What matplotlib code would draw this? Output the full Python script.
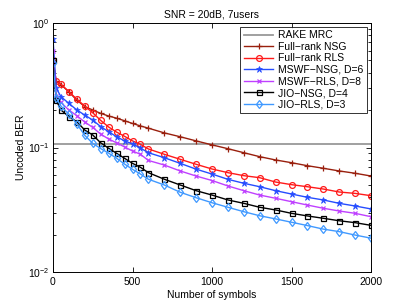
import matplotlib
matplotlib.use("Agg")
import matplotlib.pyplot as plt
from matplotlib.ticker import NullFormatter, FixedLocator

plt.rcParams['font.family'] = ['Liberation Sans', 'DejaVu Sans']
plt.rcParams['mathtext.fontset'] = 'custom'
plt.rcParams['mathtext.rm'] = 'Liberation Sans'
plt.rcParams['mathtext.it'] = 'Liberation Sans'

symbols = [0, 20, 50, 100, 150, 200, 250, 300, 350, 400, 450, 500, 550, 600,
           700, 800, 900, 1000, 1100, 1200, 1300, 1400, 1500, 1600, 1700, 1800, 1900, 2000]

rake_mrc = 0.107

fr_nsg = [0.5, 0.34, 0.32, 0.28, 0.24, 0.213, 0.2, 0.188, 0.179, 0.172, 0.164, 0.156, 0.149, 0.143,
          0.131, 0.122, 0.113, 0.105, 0.0978, 0.0908, 0.0844, 0.0794, 0.0755, 0.0714, 0.0681, 0.0648, 0.0621, 0.059]
fr_rls = [0.5, 0.34, 0.322, 0.281, 0.244, 0.215, 0.19, 0.165, 0.146, 0.133, 0.123, 0.113, 0.106, 0.0973,
          0.0882, 0.0804, 0.0733, 0.0672, 0.0628, 0.0594, 0.0572, 0.0528, 0.0503, 0.0484, 0.0464, 0.0439, 0.0428, 0.041]
mswf_nsg = [0.75, 0.30, 0.256, 0.226, 0.2, 0.182, 0.166, 0.147, 0.134, 0.122, 0.113, 0.107, 0.099, 0.0908,
            0.0828, 0.0746, 0.067, 0.0612, 0.0555, 0.0516, 0.0484, 0.045, 0.0423, 0.0398, 0.0379, 0.0356, 0.0339, 0.0321]
mswf_rls = [0.6, 0.26, 0.23, 0.2, 0.18, 0.16, 0.145, 0.128, 0.117, 0.109, 0.101, 0.0937, 0.0882, 0.0787,
            0.0723, 0.0648, 0.059, 0.0543, 0.0491, 0.045, 0.0415, 0.0391, 0.0367, 0.0345, 0.0325, 0.0309, 0.0296, 0.0278]
jio_nsg = [0.5, 0.24, 0.2, 0.177, 0.161, 0.138, 0.126, 0.109, 0.0986, 0.0898, 0.0819, 0.0746, 0.0693, 0.0628,
           0.0556, 0.05, 0.045, 0.0415, 0.0379, 0.0356, 0.0331, 0.0315, 0.0296, 0.0282, 0.027, 0.0258, 0.0249, 0.0237]
jio_rls = [0.48, 0.25, 0.215, 0.185, 0.155, 0.125, 0.108, 0.098, 0.09, 0.082, 0.0736, 0.0668, 0.0612, 0.0556,
           0.05, 0.0437, 0.0395, 0.036, 0.0331, 0.0305, 0.0283, 0.0267, 0.0251, 0.0236, 0.0221, 0.0211, 0.0198, 0.0187]

fig = plt.figure(figsize=(4.09, 3.07), dpi=100)
ax = fig.add_axes([53/409, 1-272/307, (371-53)/409, (272-23)/307])

lw = 1.0
ax.plot([0, 2000], [rake_mrc, rake_mrc], color=(0.6, 0.6, 0.6), lw=1.3, label='RAKE MRC')
ax.plot(symbols, fr_nsg, color=(0.6, 0.12, 0.05), lw=lw, marker='+', ms=4.5, mew=0.9, label='Full\u2212rank NSG')
ax.plot(symbols, fr_rls, color=(1.0, 0.1, 0.1), lw=lw, marker='o', ms=4.2, mfc='none', mew=0.9, label='Full\u2212rank RLS')
ax.plot(symbols, mswf_nsg, color=(0.15, 0.3, 1.0), lw=lw, marker='*', ms=4.5, mew=0.5, label='MSWF\u2212NSG, D=6')
ax.plot(symbols, mswf_rls, color=(0.75, 0.25, 1.0), lw=lw, marker='x', ms=3.2, mew=0.9, label='MSWF\u2212RLS, D=8')
ax.plot(symbols, jio_nsg, color='black', lw=lw, marker='s', ms=3.6, mfc='none', mew=0.9, label='JIO\u2212NSG, D=4')
ax.plot(symbols, jio_rls, color=(0.25, 0.6, 1.0), lw=lw, marker='d', ms=4.3, mfc='none', mew=0.9, label='JIO\u2212RLS, D=3')

ax.set_yscale('log')
ax.set_xlim(0, 2000)
ax.set_ylim(1e-2, 1)
ax.xaxis.set_major_locator(FixedLocator([0, 500, 1000, 1500, 2000]))
ax.yaxis.set_minor_formatter(NullFormatter())
ax.tick_params(which='both', direction='in', top=True, right=True, labelsize=7.5, width=0.6)
ax.tick_params(which='major', length=3.5)
ax.tick_params(axis='y', which='major', pad=2.5)
ax.tick_params(which='minor', length=2)
for s in ax.spines.values():
    s.set_linewidth(0.7)

ax.set_title('SNR = 20dB, 7users', fontsize=7.5, pad=4)
ax.set_xlabel('Number of symbols', fontsize=7.5, labelpad=2)
ax.set_ylabel('Uncoded BER', fontsize=7.5, labelpad=1)

leg = ax.legend(loc='upper right', fontsize=7.5, frameon=True, fancybox=False, edgecolor='black',
                borderaxespad=0.35, handlelength=2.8, labelspacing=0.15, borderpad=0.35, handletextpad=0.5)
leg.get_frame().set_linewidth(0.7)

fig.savefig('out.png', dpi=100)
